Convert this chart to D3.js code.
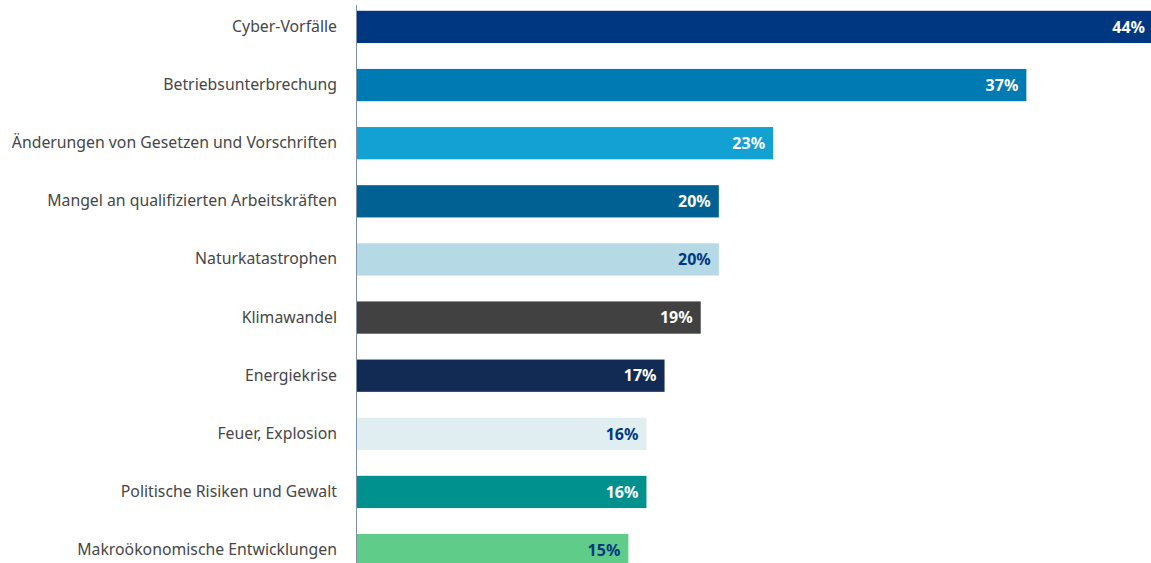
<!DOCTYPE html>
<html>
<head>
<meta charset="utf-8">
<script src="https://cdn.jsdelivr.net/npm/d3@7"></script>
<style>
  body { margin: 0; background: #fff; }
  svg { display: block; font-family: "Noto Sans", Lato, sans-serif; }
</style>
</head>
<body>
<svg id="chart" width="1151" height="563"></svg>
<script>
// data
var categories = ["Cyber-Vorfälle", "Betriebsunterbrechung", "Änderungen von Gesetzen und Vorschriften",
  "Mangel an qualifizierten Arbeitskräften", "Naturkatastrophen", "Klimawandel", "Energiekrise",
  "Feuer, Explosion", "Politische Risiken und Gewalt", "Makroökonomische Entwicklungen"];
var values = [44, 37, 23, 20, 20, 19, 17, 16, 16, 15];
var barColors = ["#003781", "#007ab3", "#13a0d3", "#006192", "#b5dae6", "#414141", "#122b54", "#e0eef2", "#00908d", "#5fcc8a"];
var labelColors = ["#fff", "#fff", "#fff", "#fff", "#003781", "#fff", "#fff", "#003781", "#fff", "#003781"];

var svg = d3.select("#chart");
var left = 357, bottom = 563;

var x = d3.scaleLinear().domain([0, 44]).range([left, 1153]);
var y = d3.scaleBand().domain(categories).range([-2, 579]).paddingInner(0.445).paddingOuter(0.22);

var rows = categories.map(function(c, i) {
  return { cat: c, val: values[i], fill: barColors[i], lab: labelColors[i] };
});

svg.selectAll(".bar")
  .data(rows)
  .enter().append("rect")
  .attr("class", "bar")
  .attr("x", x(0))
  .attr("y", function(d) { return y(d.cat); })
  .attr("width", function(d) { return x(d.val) - x(0); })
  .attr("height", y.bandwidth())
  .attr("fill", function(d) { return d.fill; });

svg.selectAll(".val")
  .data(rows)
  .enter().append("text")
  .attr("class", "val")
  .attr("x", function(d) { return x(d.val) - 8; })
  .attr("y", function(d) { return y(d.cat) + y.bandwidth() / 2; })
  .attr("dy", "0.36em")
  .attr("text-anchor", "end")
  .attr("font-size", "16px")
  .attr("font-weight", "bold")
  .attr("fill", function(d) { return d.lab; })
  .text(function(d) { return d.val + "%"; });

var axis = svg.append("g")
  .attr("transform", "translate(" + left + ",0)")
  .call(d3.axisLeft(y).tickSize(0).tickPadding(20));
axis.select(".domain").remove();
axis.append("line")
  .attr("x1", -0.5).attr("x2", -0.5)
  .attr("y1", 5).attr("y2", bottom)
  .attr("stroke", "#7f8fa6").attr("stroke-width", 1);
axis.selectAll(".tick text")
  .attr("font-size", "15.8px")
  .attr("font-family", "'Noto Sans', Lato, sans-serif")
  .attr("fill", "#464646");
</script>
</body>
</html>
